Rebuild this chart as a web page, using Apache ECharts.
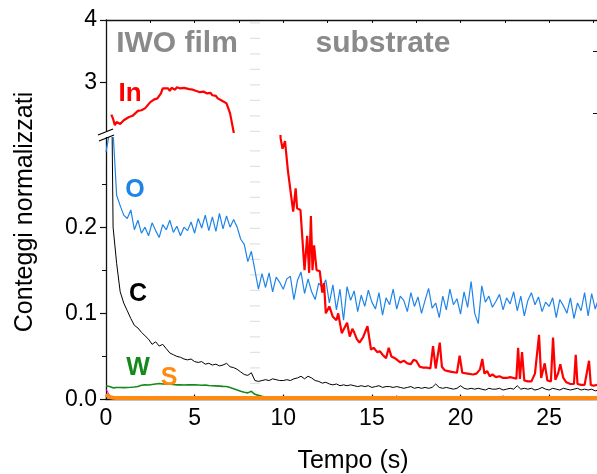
<!DOCTYPE html>
<html><head><meta charset="utf-8">
<script src="https://cdn.jsdelivr.net/npm/echarts@6/dist/echarts.min.js"></script>
<style>html,body{margin:0;padding:0;background:#fff}#c{width:597px;height:474px}</style>
</head><body><div id="c"></div>
<script>
// sampling times (s) for O, C, W, S and the minor trace
const time = [
0,0.2,0.4,0.6,0.8,1,1.2,1.4,1.6,1.8,
2,2.2,2.4,2.6,2.8,3,3.2,3.4,3.6,3.8,
4,4.2,4.4,4.6,4.8,5,5.2,5.4,5.6,5.8,
6,6.2,6.4,6.6,6.8,7,7.2,7.4,7.6,7.8,
8,8.2,8.4,8.6,8.8,9,9.2,9.4,9.6,9.8,
10,10.2,10.4,10.6,10.8,11,11.2,11.4,11.6,11.8,
12,12.2,12.4,12.6,12.8,13,13.2,13.4,13.6,13.8,
14,14.2,14.4,14.6,14.8,15,15.2,15.4,15.6,15.8,
16,16.2,16.4,16.6,16.8,17,17.2,17.4,17.6,17.8,
18,18.2,18.4,18.6,18.8,19,19.2,19.4,19.6,19.8,
20,20.2,20.4,20.6,20.8,21,21.2,21.4,21.6,21.8,
22,22.2,22.4,22.6,22.8,23,23.2,23.4,23.6,23.8,
24,24.2,24.4,24.6,24.8,25,25.2,25.4,25.6,25.8,
26,26.2,26.4,26.6,26.8,27,27.2,27.4,27.6,27.8];

const oxygen = [
0.287,0.31,0.31,0.237,0.225,0.214,0.21,0.22,0.197,0.208,
0.193,0.2,0.19,0.205,0.196,0.188,0.203,0.197,0.208,0.194,
0.201,0.19,0.2,0.196,0.206,0.193,0.21,0.199,0.214,0.196,
0.212,0.195,0.216,0.198,0.213,0.2,0.209,0.2,0.186,0.18,
0.16,0.172,0.15,0.128,0.146,0.13,0.147,0.125,0.142,0.136,
0.128,0.14,0.143,0.116,0.138,0.148,0.123,0.14,0.125,0.116,
0.135,0.13,0.139,0.112,0.133,0.104,0.128,0.092,0.131,0.115,
0.126,0.102,0.121,0.108,0.127,0.113,0.105,0.124,0.098,0.118,
0.11,0.128,0.105,0.12,0.115,0.102,0.124,0.108,0.119,0.1,
0.115,0.129,0.106,0.112,0.095,0.12,0.104,0.128,0.11,0.117,
0.099,0.125,0.107,0.137,0.1,0.088,0.132,0.113,0.12,0.107,
0.114,0.122,0.104,0.118,0.111,0.125,0.103,0.12,0.097,0.115,
0.124,0.11,0.119,0.102,0.113,0.108,0.118,0.095,0.116,0.109,
0.1,0.118,0.094,0.112,0.103,0.124,0.097,0.123,0.105,0.118];

const carbon = [
null,0.6,0.2,0.158,0.125,0.112,0.103,0.094,0.086,0.083,
0.078,0.074,0.07,0.064,0.067,0.062,0.064,0.059,0.054,0.052,
0.05,0.049,0.047,0.046,0.047,0.044,0.043,0.044,0.041,0.042,
0.04,0.041,0.039,0.04,0.042,0.038,0.037,0.035,0.032,0.029,
0.028,0.031,0.022,0.021,0.022,0.023,0.022,0.024,0.023,0.022,
0.022,0.023,0.022,0.024,0.025,0.027,0.024,0.027,0.025,0.022,
0.021,0.019,0.02,0.018,0.017,0.018,0.016,0.017,0.016,0.017,
0.016,0.015,0.016,0.015,0.016,0.014,0.015,0.016,0.014,0.015,
0.015,0.014,0.015,0.014,0.013,0.014,0.015,0.013,0.014,0.013,
0.014,0.013,0.014,0.018,0.014,0.013,0.014,0.013,0.012,0.013,
0.016,0.013,0.012,0.013,0.012,0.013,0.012,0.011,0.013,0.012,
0.012,0.013,0.011,0.012,0.013,0.012,0.016,0.012,0.013,0.012,
0.013,0.011,0.012,0.014,0.012,0.011,0.013,0.012,0.011,0.013,
0.012,0.011,0.012,0.013,0.011,0.012,0.011,0.012,0.01,0.011];

const tungsten = [
0.016,0.015,0.0135,0.014,0.014,0.0138,0.014,0.0142,0.0145,0.015,
0.0165,0.017,0.0168,0.0175,0.018,0.0185,0.018,0.0182,0.0178,0.0175,
0.017,0.0172,0.0168,0.017,0.0172,0.017,0.0168,0.0165,0.0167,0.0163,
0.016,0.0158,0.0155,0.0152,0.015,0.014,0.0125,0.011,0.0095,0.0085,
0.0077,0.0095,0.006,0.0048,0.0038,0.003,0.0025,0.0022,0.002,0.0018,
0.0016,0.0016,0.0015,0.0015,0.0015,0.0015,0.0015,0.0015,0.0015,0.0015,
0.0015,0.0015,0.0015,0.0015,0.0015,0.0015,0.0015,0.0015,0.0015,0.0015,
0.0015,0.0015,0.0015,0.0015,0.0015,0.0015,0.0015,0.0015,0.0015,0.0015,
0.0015,0.0015,0.0015,0.0015,0.0015,0.0015,0.0015,0.0015,0.0015,0.0015,
0.0015,0.0015,0.0015,0.0015,0.0015,0.0015,0.0015,0.0015,0.0015,0.0015,
0.0015,0.0015,0.0015,0.0015,0.0015,0.0015,0.0015,0.0015,0.0015,0.0015,
0.0015,0.0015,0.0015,0.0015,0.0015,0.0015,0.0015,0.0015,0.0015,0.0015,
0.0015,0.0015,0.0015,0.0015,0.0015,0.0015,0.0015,0.0015,0.0015,0.0015,
0.0015,0.0015,0.0015,0.0015,0.0015,0.0015,0.0015,0.0015,0.0015,0.0015];

const sulfur = [
0.006,0.0028,0.002,0.0018,0.0018,0.0018,0.0018,0.0018,0.0018,0.0018,
0.0018,0.0018,0.0018,0.0018,0.0018,0.0018,0.0018,0.0018,0.0018,0.0018,
0.0018,0.0018,0.0018,0.0018,0.0018,0.0018,0.0018,0.0018,0.0018,0.0018,
0.0018,0.0018,0.0018,0.0018,0.0018,0.0018,0.0018,0.0018,0.0018,0.0018,
0.0018,0.0018,0.0018,0.0018,0.0018,0.0018,0.0018,0.0018,0.0018,0.0018,
0.0018,0.0018,0.0018,0.0018,0.0018,0.0018,0.0018,0.0018,0.0018,0.0018,
0.0018,0.0018,0.0018,0.0018,0.0018,0.0018,0.0018,0.0018,0.0018,0.0018,
0.0018,0.0018,0.0018,0.0018,0.0018,0.0018,0.0018,0.0018,0.0018,0.0018,
0.0018,0.0018,0.0018,0.0018,0.0018,0.0018,0.0018,0.0018,0.0018,0.0018,
0.0018,0.0018,0.0018,0.0018,0.0018,0.0018,0.0018,0.0018,0.0018,0.0018,
0.0018,0.0018,0.0018,0.0018,0.0018,0.0018,0.0018,0.0018,0.0018,0.0018,
0.0018,0.0018,0.0018,0.0018,0.0018,0.0018,0.0018,0.0018,0.0018,0.0018,
0.0018,0.0018,0.0018,0.0018,0.0018,0.0018,0.0018,0.0018,0.0018,0.0018,
0.0018,0.0018,0.0018,0.0018,0.0018,0.0018,0.0018,0.0018,0.0018,0.0018];

const minorTrace = [
0.012,0.005,0.001,0.0008,0.0008,0.0008,0.0008,0.0008,0.0008,0.0008,
0.0008,0.0008,0.0008,0.0008,0.0008,0.0008,0.0008,0.0008,0.0008,0.0008,
0.0008,0.0008,0.0008,0.0008,0.0008,0.0008,0.0008,0.0008,0.0008,0.0008,
0.0008,0.0008,0.0008,0.0008,0.0008,0.0008,0.0008,0.0008,0.0008,0.0008,
0.0008,0.0008,0.0008,0.0008,0.0008,0.0008,0.0008,0.0008,0.0008,0.0008,
0.0008,0.0008,0.0008,0.0008,0.0008,0.0008,0.0008,0.0008,0.0008,0.0008,
0.0008,0.0008,0.0008,0.0008,0.0008,0.0008,0.0008,0.0008,0.0008,0.0008,
0.0008,0.0008,0.0008,0.0008,0.0008,0.0008,0.0008,0.0008,0.0008,0.0008,
0.0008,0.0008,0.0045,0.0008,0.0008,0.0008,0.0008,0.0008,0.0008,0.0008,
0.0008,0.0008,0.0008,0.0008,0.0008,0.0008,0.0008,0.0008,0.0008,0.0008,
0.0008,0.0008,0.0008,0.0008,0.0008,0.0008,0.0008,0.0008,0.0008,0.0008,
0.0008,0.0008,0.0045,0.0008,0.0008,0.0008,0.0008,0.0008,0.0008,0.0008,
0.0008,0.0008,0.0008,0.0008,0.0008,0.0008,0.0008,0.0008,0.0008,0.0008,
0.0008,0.0008,0.0008,0.0008,0.0008,0.0008,0.0008,0.0008,0.0008,0.0008];

// Indium: own sampling times (finer, to keep the spikes)
const timeIn = [
0.3,0.4,0.5,0.6,0.8,1.0,1.1,1.3,1.5,1.6,1.8,2.0,2.2,2.3,2.5,2.7,2.9,3.1,3.2,3.3,
3.5,3.6,3.7,3.9,4.0,4.2,4.4,4.5,4.7,4.9,5.0,5.1,5.3,5.5,5.7,5.9,6.0,6.2,6.3,6.5,
6.6,6.8,7.0,7.2,7.4,8.5,
9.7,9.85,9.96,10.1,10.26,10.56,10.7,10.78,10.97,11.2,11.35,11.46,11.56,11.65,11.74,11.88,
12.06,12.2,12.3,12.4,12.6,12.8,13.0,13.1,13.3,13.5,13.6,13.75,13.9,14.0,14.15,14.3,14.5,14.75,14.95,
15.1,15.3,15.45,15.6,15.8,15.95,16.1,16.3,16.6,16.8,17.0,17.2,17.35,17.5,17.7,17.9,
18.1,18.3,18.45,18.6,18.7,18.83,18.95,19.1,19.3,19.5,19.8,19.95,20.1,20.4,20.7,20.9,
21.1,21.23,21.35,21.5,21.65,21.8,22.0,22.2,22.4,22.6,22.8,23.0,23.15,23.25,23.35,23.47,
23.6,23.8,24.0,24.2,24.43,24.55,24.75,24.9,25.1,25.22,25.35,25.5,25.63,25.8,25.97,
26.2,26.4,26.5,26.6,26.8,27.0,27.1,27.25,27.35,27.5,27.7];
const indium = [
2.48,2.41,2.31,2.36,2.33,2.39,2.37,2.44,2.46,2.45,2.54,2.55,2.58,2.6,2.68,2.72,2.74,2.82,2.9,2.87,
2.9,2.86,2.91,2.88,2.92,2.9,2.91,2.93,2.89,2.88,2.9,2.86,2.84,2.85,2.82,2.83,2.79,2.78,2.74,2.71,
2.72,2.66,2.5,2.2,1.9,null,
0.4,0.303,0.291,0.3,0.266,0.218,0.245,0.222,0.22,0.15,0.19,0.147,0.213,0.15,0.179,0.15,
0.149,0.124,0.135,0.1,0.108,0.096,0.092,0.1,0.077,0.085,0.089,0.073,0.082,0.078,0.07,0.066,0.072,0.085,0.058,
0.06,0.055,0.056,0.052,0.048,0.06,0.05,0.048,0.043,0.045,0.042,0.041,0.046,0.045,0.038,0.037,
0.037,0.036,0.062,0.036,0.035,0.066,0.038,0.034,0.033,0.032,0.031,0.051,0.031,0.03,0.029,0.03,
0.035,0.047,0.03,0.033,0.027,0.029,0.026,0.027,0.025,0.025,0.026,0.025,0.024,0.06,0.024,0.055,
0.022,0.021,0.021,0.03,0.075,0.025,0.042,0.022,0.021,0.072,0.023,0.03,0.041,0.025,0.02,
0.018,0.018,0.052,0.018,0.017,0.017,0.018,0.045,0.017,0.016,0.017];

const xTicksBottom = [0, 5, 10, 15, 20, 25];
const yMajorUpper = [3, 4];
const yMinorUpper = [2.5, 3.5];
const yMajorLower = [0, 0.1, 0.2];
const yMinorLower = [0.05, 0.15, 0.25];

const FONT = '"Liberation Sans", Arial, sans-serif';
const pairs = (xs, ys) => xs.map((x, i) => [x, ys[i]]);
const axisColor = '#111';

const chart = echarts.init(document.getElementById('c'), null, {renderer: 'canvas'});

const sepLine = {
  silent: true, symbol: 'none', label: {show: false},
  lineStyle: {color: '#e2e2e2', width: 10, type: [1.2, 14.3]},
  data: [{xAxis: 8.4}]
};

chart.setOption({
  animation: false,
  backgroundColor: '#fff',
  grid: [
    {left: 106, right: 0, top: 20, height: 112},
    {left: 106, right: 0, top: 136, height: 263.5}
  ],
  xAxis: [
    {gridIndex: 0, type: 'value', position: 'top', min: 0, max: 27.7, interval: 2.5,
     axisLine: {show: true, lineStyle: {color: axisColor, width: 1.3}},
     axisTick: {show: true, inside: true, length: 3, lineStyle: {color: axisColor}},
     axisLabel: {show: false}, splitLine: {show: false}},
    {gridIndex: 1, type: 'value', position: 'bottom', min: 0, max: 27.7,
     axisLine: {show: true, onZero: false, lineStyle: {color: axisColor, width: 1.3}},
     axisTick: {show: true, inside: true, length: 5, customValues: xTicksBottom, lineStyle: {color: axisColor, width: 1.2}},
     axisLabel: {show: true, customValues: xTicksBottom, color: '#000', fontFamily: FONT, fontSize: 23, margin: 8},
     splitLine: {show: false}}
  ],
  yAxis: [
    {gridIndex: 0, type: 'value', min: 2.2, max: 4,
     axisLine: {show: true, lineStyle: {color: axisColor, width: 1.3}},
     axisTick: {show: true, inside: false, length: 6, customValues: yMajorUpper, lineStyle: {color: axisColor, width: 1.2}},
     axisLabel: {show: true, customValues: yMajorUpper, color: '#000', fontFamily: FONT, fontSize: 23, margin: 9,
       formatter: v => String(v)},
     splitLine: {show: false}},
    {gridIndex: 0, type: 'value', min: 2.2, max: 4,
     axisLine: {show: false},
     axisTick: {show: true, inside: true, length: 4, customValues: yMinorUpper, lineStyle: {color: axisColor}},
     axisLabel: {show: false}, splitLine: {show: false}},
    {gridIndex: 1, type: 'value', min: 0, max: 0.3058,
     axisLine: {show: true, onZero: false, lineStyle: {color: axisColor, width: 1.3}},
     axisTick: {show: true, inside: false, length: 6, customValues: yMajorLower, lineStyle: {color: axisColor, width: 1.2}},
     axisLabel: {show: true, customValues: yMajorLower, color: '#000', fontFamily: FONT, fontSize: 23, margin: 9,
       formatter: v => v.toFixed(1)},
     splitLine: {show: false}},
    {gridIndex: 1, type: 'value', min: 0, max: 0.3058,
     axisLine: {show: false},
     axisTick: {show: true, inside: true, length: 4, customValues: yMinorLower, lineStyle: {color: axisColor}},
     axisLabel: {show: false}, splitLine: {show: false}}
  ],
  series: [
    {type: 'line', name: 'In', xAxisIndex: 0, yAxisIndex: 0, data: pairs(timeIn, indium),
     showSymbol: false, clip: true, lineStyle: {color: '#ff0000', width: 2.2}, z: 5, markLine: sepLine},
    {type: 'line', name: 'minor', xAxisIndex: 1, yAxisIndex: 2, data: pairs(time, minorTrace),
     showSymbol: false, clip: false, lineStyle: {color: '#ff00ff', width: 1}, z: 2},
    {type: 'line', name: 'W', xAxisIndex: 1, yAxisIndex: 2, data: pairs(time, tungsten),
     showSymbol: false, clip: false, lineStyle: {color: '#15891a', width: 1.6}, z: 3, markLine: sepLine},
    {type: 'line', name: 'C', xAxisIndex: 1, yAxisIndex: 2, data: pairs(time, carbon),
     showSymbol: false, clip: true, lineStyle: {color: '#000000', width: 1}, z: 4},
    {type: 'line', name: 'O', xAxisIndex: 1, yAxisIndex: 2, data: pairs(time, oxygen),
     showSymbol: false, clip: true, lineStyle: {color: '#1f84e8', width: 1.2}, z: 5},
    {type: 'line', name: 'In_low', xAxisIndex: 1, yAxisIndex: 2, data: pairs(timeIn, indium),
     showSymbol: false, clip: true, lineStyle: {color: '#ff0000', width: 2.2}, z: 6},
    {type: 'line', name: 'S', xAxisIndex: 1, yAxisIndex: 2, data: pairs(time, sulfur),
     showSymbol: false, clip: false, lineStyle: {color: '#ff8a10', width: 4}, z: 7}
  ],
  graphic: [
    // axis break marks
    {type: 'rect', shape: {x: 96, y: 131, width: 18, height: 6}, style: {fill: '#fff'}, z: 100},
    {type: 'line', shape: {x1: 98, y1: 135, x2: 113, y2: 129}, style: {stroke: '#000', lineWidth: 1.3}, z: 101},
    {type: 'line', shape: {x1: 99, y1: 141, x2: 114, y2: 135}, style: {stroke: '#000', lineWidth: 1.3}, z: 101},
    // region titles
    {type: 'text', x: 177, y: 44, style: {text: 'IWO film', fill: '#8a8a8a', font: 'bold 30px ' + FONT, textAlign: 'center', textVerticalAlign: 'middle'}, z: 50},
    {type: 'text', x: 383, y: 44, style: {text: 'substrate', fill: '#8a8a8a', font: 'bold 30px ' + FONT, textAlign: 'center', textVerticalAlign: 'middle'}, z: 50},
    // series labels
    {type: 'text', x: 130, y: 94, style: {text: 'In', fill: '#ff0000', font: 'bold 26px ' + FONT, textAlign: 'center', textVerticalAlign: 'middle'}, z: 50},
    {type: 'text', x: 135, y: 190, style: {text: 'O', fill: '#1f84e8', font: 'bold 25px ' + FONT, textAlign: 'center', textVerticalAlign: 'middle'}, z: 50},
    {type: 'text', x: 138, y: 294, style: {text: 'C', fill: '#000', font: 'bold 25px ' + FONT, textAlign: 'center', textVerticalAlign: 'middle'}, z: 50},
    {type: 'text', x: 138, y: 368, style: {text: 'W', fill: '#15891a', font: 'bold 25px ' + FONT, textAlign: 'center', textVerticalAlign: 'middle'}, z: 50},
    {type: 'text', x: 169, y: 378, style: {text: 'S', fill: '#ff8a10', font: 'bold 25px ' + FONT, textAlign: 'center', textVerticalAlign: 'middle'}, z: 50},
    // axis titles
    {type: 'text', x: 353, y: 461, style: {text: 'Tempo (s)', fill: '#000', font: '25px ' + FONT, textAlign: 'center', textVerticalAlign: 'middle'}, z: 50},
    {type: 'text', x: 25, y: 212, rotation: Math.PI / 2, style: {text: 'Conteggi normalizzati', fill: '#000', font: '25px ' + FONT, textAlign: 'center', textVerticalAlign: 'middle'}, z: 50}
  ]
});
</script>
</body></html>
